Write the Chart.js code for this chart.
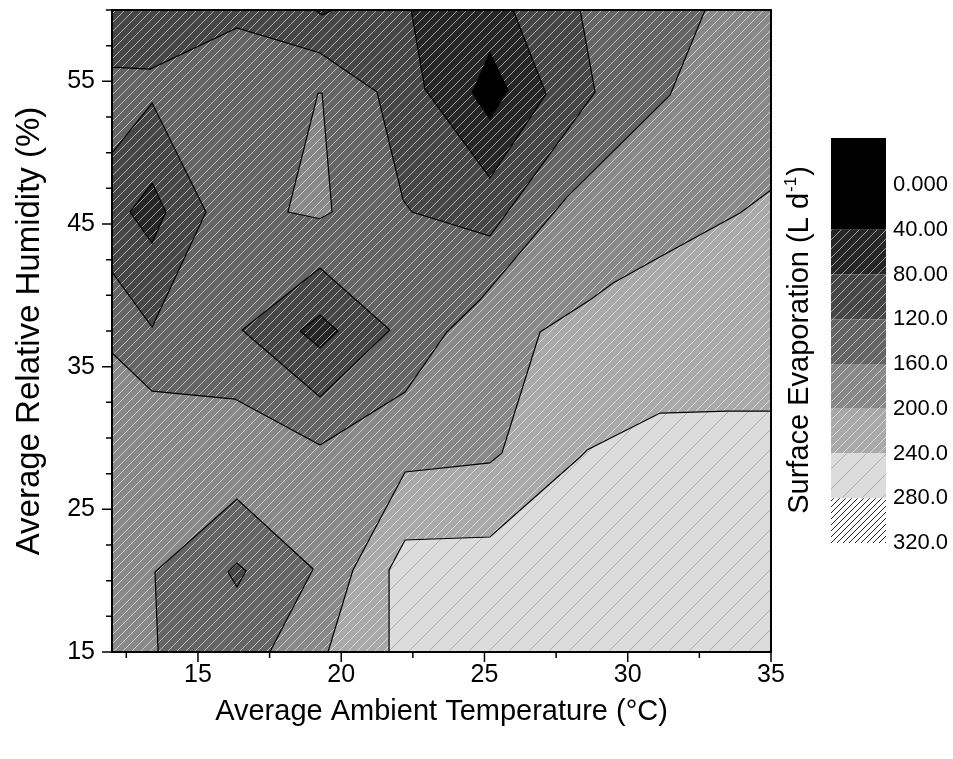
<!DOCTYPE html>
<html>
<head>
<meta charset="utf-8">
<title>Surface Evaporation contour</title>
<script src="https://cdn.jsdelivr.net/npm/chart.js@4.4.1/dist/chart.umd.min.js"></script>
<style>
  body { margin: 0; background: #fff; }
  canvas { display: block; }
</style>
</head>
<body>
<canvas id="evaporacion" width="953" height="759"></canvas>
<script>
// ---- datos (temperatura °C, humedad %) ----
const xTicks = [12.5, 15, 17.5, 20, 22.5, 25, 27.5, 30, 32.5, 35];
const yTicks = [15, 17.5, 20, 22.5, 25, 27.5, 30, 32.5, 35, 37.5, 40, 42.5, 45, 47.5, 50, 52.5, 55, 57.5, 60];
const levels = [0, 40, 80, 120, 160, 200, 240, 280, 320];
// colour of each band: <0, 0-40, 40-80, ... 280-320
const bandColors = ["#000000", "#000000", "#262626", "#474747", "#656565", "#898989", "#a9a9a9", "#dcdcdc", "#ffffff"];

// contour regions, painted from bottom to top
const plotFrame = [[12, 15], [35, 15], [35, 60], [12, 60]];
const over200 = [[19.54, 15], [20.41, 20.75], [22.23, 27.62], [25.19, 28.25], [25.61, 28.95], [26.94, 37.43], [28.68, 39.67], [29.49, 40.86], [31.37, 42.97], [33.92, 45.77], [35, 47.38], [35, 15]];
const over240 = [[21.7, 15], [21.67, 20.75], [22.23, 22.85], [25.19, 23.06], [28.34, 28.67], [28.58, 29.16], [31.13, 31.75], [33.47, 31.89], [35, 31.89], [35, 15]];
const under160Top = [[12, 60], [12, 35.96], [13.4, 33.29], [16.29, 32.73], [19.26, 29.51], [22.23, 33.22], [23.69, 37.43], [24.84, 39.67], [27.88, 46.89], [31.48, 54.04], [32.7, 60]];
const under160Low = [[13.61, 15], [13.5, 20.61], [16.36, 25.72], [19.02, 20.82], [17.51, 15]];
const under120Top = [[12, 60], [12, 56.0], [13.33, 55.86], [16.36, 58.74], [19.26, 56.99], [21.25, 54.25], [22.16, 46.68], [22.47, 45.84], [25.19, 44.16], [28.86, 54.25], [28.34, 60]];
const under120Left = [[12, 49.98], [13.4, 53.48], [15.28, 45.84], [13.4, 37.78], [12, 41.63]];
const under120Mid = [[19.26, 41.92], [21.7, 37.57], [19.26, 32.87], [16.54, 37.57]];
const under120Low = [[16.05, 20.61], [16.36, 21.24], [16.68, 20.68], [16.36, 19.56]];
const over160Peak = [[19.19, 54.18], [19.33, 54.18], [19.68, 45.84], [19.26, 45.37], [18.14, 45.84]];
const under80Top = [[22.44, 60], [22.92, 54.46], [25.19, 48.22], [27.15, 54.11], [26.0, 60]];
const under80Left = [[13.4, 47.87], [13.88, 45.84], [13.4, 43.67], [12.63, 45.84]];
const under80Mid = [[18.56, 37.5], [19.26, 38.62], [19.89, 37.5], [19.26, 36.31]];
const under80Edge = [[19.09, 60], [19.33, 59.65], [19.71, 60]];
const under40 = [[24.57, 54.18], [25.19, 56.99], [25.82, 54.39], [25.19, 52.36]];

const regions = [
  [plotFrame, 5], [over200, 6], [over240, 7],
  [under160Top, 4], [under160Low, 4],
  [under120Top, 3], [under120Left, 3], [under120Mid, 3], [under120Low, 3],
  [over160Peak, 5],
  [under80Top, 2], [under80Left, 2], [under80Mid, 2], [under80Edge, 2],
  [under40, 1],
];

const FONT = '"Liberation Sans", Arial, sans-serif';

// diagonal hatch fill, drawn pixel by pixel so the lines stay crisp
function rayado(base, linea, paso) {
  let c = document.createElement("canvas");
  c.width = paso;
  c.height = paso;
  let g = c.getContext("2d");
  g.fillStyle = base;
  g.fillRect(0, 0, paso, paso);
  if (linea) {
    g.fillStyle = linea;
    for (let i = 0; i < paso; i++) {
      g.fillRect(i, paso - 1 - i, 1, 1);
    }
  }
  return g.createPattern(c, "repeat");
}

const bandFills = bandColors.map((col, i) => {
  if (i <= 1) return col;
  if (i === 7) return rayado(col, "rgba(140,140,140,0.6)", 20);
  if (i === 8) return rayado(col, "rgba(0,0,0,0.85)", 6);
  return rayado(col, "rgba(255,255,255,0.55)", 9);
});

const datasets = regions.map(([pts, band], i) => ({
  data: pts.concat([pts[0]]).map(([x, y]) => ({ x: x, y: y })),
  fill: "shape",
  backgroundColor: bandFills[band],
  borderColor: "#000",
  borderWidth: i === 0 ? 0 : 1.2,
  pointRadius: 0,
  tension: 0,
  order: regions.length - i,
}));

// frame, tick marks and colour bar
const extras = {
  id: "extras",
  afterDraw(chart) {
    let ctx = chart.ctx;
    let a = chart.chartArea;
    let sx = chart.scales.x;
    let sy = chart.scales.y;
    ctx.save();
    ctx.strokeStyle = "#000";
    ctx.lineWidth = 1.5;
    ctx.beginPath();
    xTicks.forEach((v) => {
      let px = sx.getPixelForValue(v);
      ctx.moveTo(px, a.bottom);
      ctx.lineTo(px, a.bottom + (v % 5 === 0 ? 10 : 6));
    });
    yTicks.forEach((v) => {
      let py = sy.getPixelForValue(v);
      ctx.moveTo(a.left, py);
      ctx.lineTo(a.left - ((v - 15) % 10 === 0 ? 10 : 6), py);
    });
    ctx.stroke();
    ctx.lineWidth = 2;
    ctx.strokeRect(a.left, a.top, a.right - a.left, a.bottom - a.top);

    // colour bar
    let bx = 831, bw = 55, y0 = 185, paso = 44.75;
    bandFills.forEach((f, k) => {
      let top = k === 0 ? 138 : y0 + (k - 1) * paso;
      let bot = y0 + k * paso;
      ctx.fillStyle = f;
      ctx.fillRect(bx, top, bw, bot - top);
    });
    ctx.fillStyle = "#000";
    ctx.font = "22px " + FONT;
    ctx.textAlign = "left";
    ctx.textBaseline = "middle";
    levels.forEach((v, i) => {
      ctx.fillText(v.toPrecision(4), 893, y0 + i * paso);
    });

    // colour bar title with superscript
    ctx.translate(800, 341);
    ctx.rotate(-Math.PI / 2);
    let big = "29px " + FONT, small = "17px " + FONT;
    let t1 = "Surface Evaporation (L d", t2 = "-1", t3 = ")";
    ctx.font = big;
    let w1 = ctx.measureText(t1).width, w3 = ctx.measureText(t3).width;
    ctx.font = small;
    let w2 = ctx.measureText(t2).width;
    let x = -(w1 + w2 + w3) / 2;
    ctx.font = big;
    ctx.fillText(t1, x, 0);
    ctx.font = small;
    ctx.fillText(t2, x + w1 + 1, -9);
    ctx.font = big;
    ctx.fillText(t3, x + w1 + w2 + 2, 0);
    ctx.restore();
  },
};

function cargarContorno() {
  let canvas = document.getElementById("evaporacion");
  Chart.defaults.font.family = FONT;
  Chart.defaults.color = "#000";

  new Chart(canvas, {
    type: "line",
    data: { datasets: datasets },
    options: {
      responsive: false,
      animation: false,
      layout: { padding: { left: 0, right: 182, top: 10, bottom: 0 } },
      plugins: { legend: { display: false }, tooltip: { enabled: false } },
      scales: {
        x: {
          type: "linear",
          min: 12,
          max: 35,
          afterBuildTicks: (s) => { s.ticks = xTicks.map((v) => ({ value: v })); },
          afterFit: (s) => {
            s.height = 107;
            s.paddingLeft = 0;
            s.paddingRight = 0;
          },
          grid: { display: false, drawTicks: false },
          border: { display: false },
          ticks: {
            autoSkip: false,
            maxRotation: 0,
            padding: 8,
            font: { size: 25 },
            callback: (v) => (v % 5 === 0 ? String(v) : ""),
          },
          title: {
            display: true,
            text: "Average Ambient Temperature (°C)",
            font: { size: 29 },
            padding: { top: 0, bottom: 30 },
          },
        },
        y: {
          type: "linear",
          min: 15,
          max: 60,
          afterBuildTicks: (s) => { s.ticks = yTicks.map((v) => ({ value: v })); },
          afterFit: (s) => {
            s.width = 112;
            s.paddingTop = 0;
            s.paddingBottom = 0;
          },
          grid: { display: false, drawTicks: false },
          border: { display: false },
          ticks: {
            autoSkip: false,
            padding: 17,
            font: { size: 25 },
            callback: (v) => ((v - 15) % 10 === 0 ? String(v) : ""),
          },
          title: {
            display: true,
            text: "Average Relative Humidity (%)",
            font: { size: 33 },
            padding: { top: 10, bottom: 0 },
          },
        },
      },
    },
    plugins: [extras],
  });
}

document.addEventListener("DOMContentLoaded", () => {
  cargarContorno();
});
</script>
</body>
</html>
